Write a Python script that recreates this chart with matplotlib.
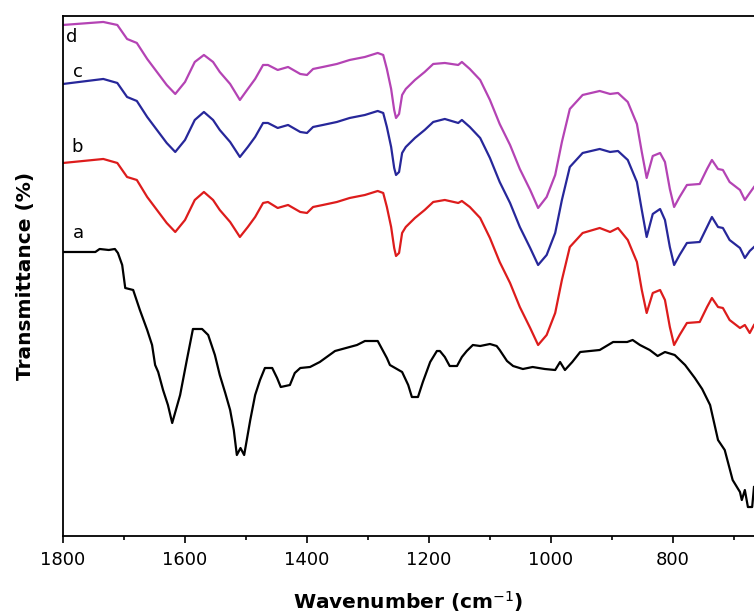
import numpy as np
import matplotlib.pyplot as plt

# spectrum a (black)
wn_a = [1800, 1747, 1740, 1725, 1715, 1710, 1703, 1698, 1685, 1674, 1662, 1654, 1649, 1644,
        1636, 1628, 1621, 1608, 1597, 1587, 1582, 1572, 1562, 1551, 1543, 1534, 1526, 1520,
        1515, 1509, 1503, 1493, 1485, 1477, 1469, 1457, 1449, 1443, 1428, 1420, 1411, 1395,
        1379, 1354, 1318, 1305, 1284, 1269, 1264, 1244, 1234, 1228, 1218, 1210, 1198, 1187,
        1182, 1174, 1166, 1154, 1146, 1138, 1128, 1116, 1100, 1089, 1084, 1072, 1062, 1046,
        1030, 1010, 993, 985, 977, 965, 952, 920, 898, 875, 866, 854, 838, 825, 813, 797,
        780, 764, 752, 739, 726, 715, 702, 690, 687, 682, 677, 670, 667]
t_a = [28.4, 28.4, 28.7, 28.6, 28.7, 28.3, 27.1, 24.8, 24.6, 22.6, 20.6, 19.1, 17.1, 16.4,
       14.6, 13.1, 11.3, 14.1, 17.6, 20.7, 20.7, 20.7, 20.1, 18.1, 16.1, 14.3, 12.6, 10.6,
       8.1, 8.8, 8.1, 11.6, 14.1, 15.6, 16.8, 16.8, 15.8, 14.9, 15.1, 16.3, 16.8, 16.9,
       17.4, 18.5, 19.1, 19.5, 19.5, 17.8, 17.1, 16.4, 15.1, 13.9, 13.9, 15.4, 17.4, 18.5,
       18.5, 17.9, 17.0, 17.0, 17.9, 18.5, 19.1, 19.0, 19.2, 19.0, 18.6, 17.5, 17.0, 16.7,
       16.9, 16.7, 16.6, 17.4, 16.6, 17.4, 18.4, 18.6, 19.4, 19.4, 19.6, 19.1, 18.6, 18.0,
       18.4, 18.1, 17.1, 15.8, 14.7, 13.1, 9.6, 8.6, 5.6, 4.4, 3.6, 4.6, 2.9, 2.9, 4.9]

# spectra b, c, d share the same wavenumber grid
wn_bcd = [1800, 1734, 1711, 1695, 1679, 1662, 1646, 1630, 1616, 1600, 1584, 1569, 1554, 1543,
          1526, 1510, 1497, 1485, 1472, 1464, 1448, 1431, 1411, 1400, 1390, 1374, 1351, 1330,
          1305, 1284, 1275, 1269, 1262, 1257, 1254, 1249, 1244, 1238, 1223, 1207, 1193, 1174,
          1152, 1146, 1133, 1116, 1100, 1084, 1067, 1051, 1034, 1021, 1007, 993, 982, 969,
          948, 920, 903, 890, 874, 859, 851, 843, 833, 821, 813, 805, 798, 789, 777, 756,
          744, 736, 726, 718, 707, 690, 682, 674, 667]
t_b = [37.3, 37.7, 37.3, 35.9, 35.6, 33.9, 32.6, 31.3, 30.4, 31.6, 33.6, 34.4, 33.6, 32.6,
       31.4, 29.9, 30.9, 31.9, 33.3, 33.4, 32.8, 33.1, 32.4, 32.3, 32.9, 33.1, 33.4, 33.8,
       34.1, 34.5, 34.3, 32.9, 30.9, 28.8, 28.0, 28.3, 30.3, 30.9, 31.8, 32.6, 33.4, 33.6,
       33.3, 33.5, 32.9, 31.8, 29.8, 27.4, 25.3, 22.9, 20.8, 19.1, 20.1, 22.3, 25.6, 28.9,
       30.3, 30.8, 30.4, 30.8, 29.6, 27.4, 24.6, 22.3, 24.3, 24.6, 23.6, 20.9, 19.1, 20.1,
       21.3, 21.4, 22.9, 23.8, 22.9, 22.8, 21.6, 20.8, 21.1, 20.3, 21.1]
t_c = [45.2, 45.7, 45.3, 43.9, 43.5, 41.9, 40.6, 39.3, 38.4, 39.6, 41.6, 42.4, 41.6, 40.6,
       39.4, 37.9, 38.9, 39.9, 41.3, 41.3, 40.8, 41.1, 40.4, 40.3, 40.9, 41.1, 41.4, 41.8,
       42.1, 42.5, 42.3, 40.9, 38.9, 36.8, 36.1, 36.4, 38.3, 38.9, 39.8, 40.6, 41.4, 41.7,
       41.3, 41.6, 40.9, 39.8, 37.8, 35.4, 33.3, 30.9, 28.8, 27.1, 28.1, 30.3, 33.6, 36.9,
       38.3, 38.7, 38.4, 38.5, 37.6, 35.4, 32.6, 29.9, 32.2, 32.7, 31.6, 28.9, 27.1, 28.1,
       29.3, 29.4, 30.9, 31.9, 30.9, 30.8, 29.6, 28.8, 27.8, 28.5, 28.9]
t_d = [51.1, 51.4, 51.1, 49.7, 49.3, 47.7, 46.4, 45.1, 44.2, 45.4, 47.4, 48.1, 47.4, 46.4,
       45.2, 43.6, 44.7, 45.7, 47.1, 47.1, 46.6, 46.9, 46.2, 46.1, 46.7, 46.9, 47.2, 47.6,
       47.9, 48.3, 48.1, 46.7, 44.7, 42.6, 41.8, 42.2, 44.1, 44.7, 45.6, 46.4, 47.2, 47.3,
       47.1, 47.4, 46.7, 45.6, 43.6, 41.2, 39.1, 36.7, 34.6, 32.8, 33.9, 36.1, 39.4, 42.7,
       44.1, 44.5, 44.2, 44.3, 43.4, 41.2, 38.4, 35.8, 38.0, 38.3, 37.4, 34.7, 32.9, 33.9,
       35.1, 35.2, 36.7, 37.6, 36.7, 36.6, 35.4, 34.6, 33.6, 34.3, 34.9]

labels = ["a", "b", "c", "d"]
label_pos = [(1774, 30.3), (1777, 38.9), (1775, 46.4), (1785, 49.9)]
colors = ["black", "#dd1c1c", "#27279a", "#b443b4"]

fig = plt.figure(figsize=(7.54, 6.14), dpi=100)
ax = fig.add_axes([0.0836, 0.127, 0.9164, 0.847])

ax.plot(wn_a, t_a, color=colors[0], lw=1.6)
ax.plot(wn_bcd, t_b, color=colors[1], lw=1.6)
ax.plot(wn_bcd, t_c, color=colors[2], lw=1.6)
ax.plot(wn_bcd, t_d, color=colors[3], lw=1.6)

for lab, (x, y) in zip(labels, label_pos):
    ax.text(x, y, lab, fontsize=13, ha="center", va="center")

ax.set_xlim(1800, 667)
ax.set_ylim(0, 52)
ax.set_xticks([1800, 1600, 1400, 1200, 1000, 800])
ax.set_xticks(np.arange(1700, 660, -200), minor=True)
ax.set_yticks([])
ax.tick_params(axis="x", direction="out", length=5, width=1.2, labelsize=13, pad=6)
ax.tick_params(axis="x", which="minor", direction="out", length=3, width=1.2)
ax.spines["right"].set_visible(False)
for s in ["left", "bottom", "top"]:
    ax.spines[s].set_linewidth(1.3)

ax.set_xlabel("Wavenumber (cm$^{-1}$)", fontsize=14.5, fontweight="bold", labelpad=14)
ax.set_ylabel("Transmittance (%)", fontsize=14.5, fontweight="bold", labelpad=20)

fig.savefig("out.png", dpi=100)
